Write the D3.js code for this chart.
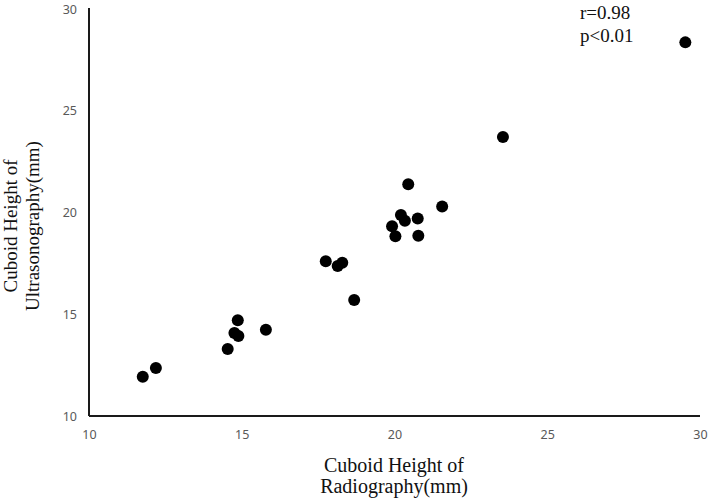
<!DOCTYPE html>
<html>
<head>
<meta charset="utf-8">
<script src="https://cdn.jsdelivr.net/npm/d3@7"></script>
<style>
  body { margin: 0; background: #fff; }
  .tick text { font-family: "Noto Sans", sans-serif; font-size: 12.5px; fill: #595959; }
  .title { font-family: "Liberation Serif", "Times New Roman", serif; font-size: 19px; fill: #111; }
</style>
</head>
<body>
<script>
// radiography vs ultrasonography cuboid height (mm)
var radiography = [11.76, 12.19, 14.54, 14.87, 14.76, 14.89, 15.79, 17.75, 18.14, 18.29, 18.68,
                   19.92, 20.03, 20.21, 20.34, 20.45, 20.76, 20.78, 21.56, 23.55, 29.52];
var ultrasonography = [11.93, 12.36, 13.29, 14.70, 14.08, 13.93, 14.24, 17.60, 17.37, 17.53, 15.70,
                       19.32, 18.83, 19.88, 19.60, 21.39, 19.71, 18.86, 20.30, 23.71, 28.36];
var xTicks = [10, 15, 20, 25, 30];
var yTicks = [10, 15, 20, 25, 30];
var statsText = ["r=0.98", "p<0.01"];

var width = 709;
var height = 502;

var xScale = d3.scaleLinear()
        .domain([10, 30])
        .range([89, 700]);

var yScale = d3.scaleLinear()
        .domain([10, 30])
        .range([416, 9]);

var svg = d3.select("body")
      .append("svg")
      .attr("width", width)
      .attr("height", height);

var xAxis = svg.append("g")
        .attr("transform", "translate(0,416)")
        .call(d3.axisBottom(xScale).tickValues(xTicks).tickSize(0).tickPadding(14));
xAxis.select(".domain").remove();

var yAxis = svg.append("g")
        .attr("transform", "translate(89,0)")
        .call(d3.axisLeft(yScale).tickValues(yTicks).tickSize(0).tickPadding(12));
yAxis.select(".domain").remove();

// axis lines only along the bottom and left
svg.append("line")
  .attr("x1", xScale(10)).attr("x2", xScale(10))
  .attr("y1", yScale(30) - 1).attr("y2", yScale(10))
  .attr("stroke", "#1a1a1a").attr("stroke-width", 2);
svg.append("line")
  .attr("x1", xScale(10)).attr("x2", xScale(30))
  .attr("y1", yScale(10)).attr("y2", yScale(10))
  .attr("stroke", "#1a1a1a").attr("stroke-width", 2);

var points = radiography.map(function(d, i) { return { x: d, y: ultrasonography[i] }; });

svg.append("g")
  .selectAll("circle")
  .data(points)
  .enter()
  .append("circle")
  .attr("cx", function(d) { return xScale(d.x); })
  .attr("cy", function(d) { return yScale(d.y); })
  .attr("r", 6)
  .attr("fill", "#000");

// stats
svg.append("g")
  .selectAll("text")
  .data(statsText)
  .enter()
  .append("text")
  .attr("class", "title")
  .attr("x", 580)
  .attr("y", function(d, i) { return 19 + i * 23; })
  .text(function(d) { return d; });

// x title
var xLabel = svg.append("text")
        .attr("class", "title")
        .style("font-size", "20px")
        .attr("text-anchor", "middle");
xLabel.append("tspan").attr("x", 394).attr("y", 472).text("Cuboid Height of");
xLabel.append("tspan").attr("x", 394).attr("y", 493).text("Radiography(mm)");

// y title
var yLabel = svg.append("text")
        .attr("class", "title")
        .attr("text-anchor", "middle")
        .attr("transform", "translate(0,226)rotate(-90)");
yLabel.append("tspan").attr("x", 0).attr("y", 17).text("Cuboid Height of");
yLabel.append("tspan").attr("x", 0).attr("y", 39).text("Ultrasonography(mm)");
</script>
</body>
</html>
